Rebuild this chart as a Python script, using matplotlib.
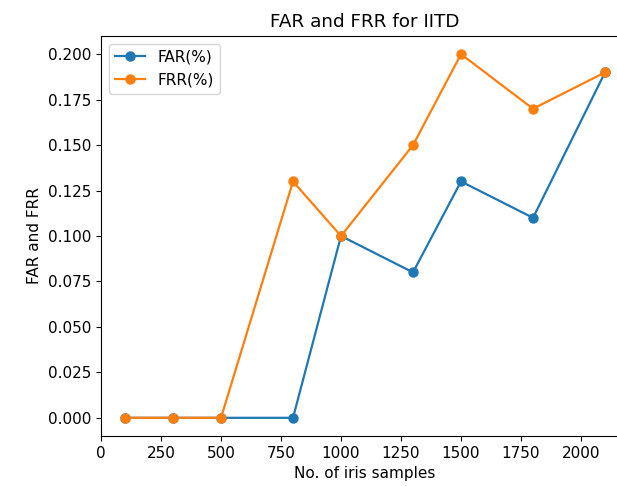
import matplotlib
matplotlib.use("Agg")
import matplotlib.pyplot as plt

samples = [100, 300, 500, 800, 1000, 1300, 1500, 1800, 2100]
far = [0.0, 0.0, 0.0, 0.0, 0.10, 0.08, 0.13, 0.11, 0.19]
frr = [0.0, 0.0, 0.0, 0.13, 0.10, 0.15, 0.20, 0.17, 0.19]

fs = 11
fig = plt.figure(figsize=(6.17, 4.86), dpi=100)
ax = fig.add_axes([0.1637, 0.1029, 0.8558, 0.823])
ax.plot(samples, far, marker='o', markersize=6.5, linewidth=1.6, label='FAR(%)')
ax.plot(samples, frr, marker='o', markersize=6.5, linewidth=1.6, label='FRR(%)')
ax.set_title('FAR and FRR for IITD', fontsize=13.2, pad=6.5)
ax.set_xlabel('No. of iris samples', fontsize=fs)
ax.set_ylabel('FAR and FRR', fontsize=fs)
ax.set_xticks([0, 250, 500, 750, 1000, 1250, 1500, 1750, 2000])
ax.set_xlim(0, 2200)
ax.tick_params(labelsize=fs)
ax.legend(loc='upper left', fontsize=fs)
fig.savefig('out.png', dpi=100)
